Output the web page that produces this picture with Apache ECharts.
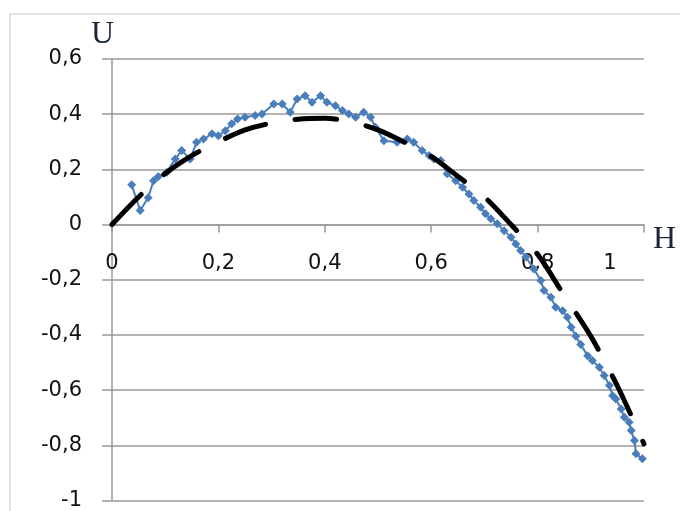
<!DOCTYPE html>
<html>
<head>
<meta charset="utf-8">
<script src="https://cdn.jsdelivr.net/npm/echarts@6/dist/echarts.min.js"></script>
<style>html,body{margin:0;padding:0;background:#fff}#c{width:680px;height:511px}</style>
</head>
<body>
<div id="c"></div>
<script>
// Experimental data (blue, diamond markers)
const expH = [0.037,0.053,0.068,0.078,0.087,0.103,0.119,0.131,0.147,0.159,0.172,0.188,0.2,0.213,0.225,0.236,0.25,0.269,0.282,0.304,0.32,0.335,0.348,0.363,0.376,0.392,0.404,0.42,0.433,0.445,0.458,0.473,0.486,0.495,0.511,0.536,0.555,0.567,0.583,0.596,0.605,0.618,0.63,0.646,0.659,0.671,0.68,0.693,0.702,0.712,0.724,0.737,0.75,0.759,0.768,0.778,0.793,0.806,0.812,0.825,0.834,0.847,0.856,0.863,0.872,0.881,0.894,0.903,0.916,0.925,0.935,0.941,0.947,0.957,0.963,0.972,0.976,0.982,0.985,0.997];
const expU = [0.144,0.051,0.097,0.159,0.174,0.19,0.238,0.268,0.238,0.298,0.31,0.329,0.322,0.34,0.365,0.383,0.389,0.395,0.401,0.437,0.437,0.407,0.455,0.467,0.443,0.467,0.443,0.431,0.413,0.401,0.389,0.407,0.389,0.353,0.304,0.298,0.31,0.298,0.268,0.25,0.238,0.232,0.184,0.159,0.135,0.111,0.087,0.063,0.039,0.021,0.003,-0.022,-0.046,-0.07,-0.094,-0.118,-0.161,-0.203,-0.239,-0.263,-0.3,-0.312,-0.336,-0.372,-0.405,-0.435,-0.475,-0.493,-0.517,-0.547,-0.583,-0.62,-0.632,-0.668,-0.698,-0.716,-0.746,-0.783,-0.831,-0.849];
// Theoretical curve (black dashed)
const thH = [0,0.05,0.1,0.15,0.2,0.25,0.3,0.35,0.4,0.45,0.5,0.55,0.6,0.65,0.7,0.75,0.8,0.85,0.9,0.95,1.0];
const thU = [0,0.1,0.185,0.25,0.3,0.343,0.368,0.382,0.385,0.372,0.343,0.298,0.247,0.175,0.10,0.0,-0.108,-0.257,-0.405,-0.585,-0.795];
// Axis settings
const xTicks = {min:0, max:1, step:0.2};
const yTicks = {min:-1, max:0.6, step:0.2};
const xName = 'H';
const yName = 'U';

const FONT = 'DejaVu Sans';
const fmt = v => String(Math.round(v*10)/10).replace('.', ',');
const zip = (a,b) => a.map((v,i)=>[v,b[i]]);

const GRID_TOP = 59, GRID_BOTTOM = 10.5, H_PX = 511;
const plotH = H_PX - GRID_TOP - GRID_BOTTOM;
// shift the x axis from the bottom of the plot up to U = 0
const zeroShift = -plotH * (0 - yTicks.min) / (yTicks.max - yTicks.min);

const chart = echarts.init(document.getElementById('c'), null, {renderer:'canvas'});
chart.setOption({
  animation:false,
  backgroundColor:'#fff',
  grid:{left:112, right:36, top:GRID_TOP, bottom:GRID_BOTTOM, containLabel:false},
  xAxis:{
    type:'value', min:xTicks.min, max:xTicks.max, interval:xTicks.step,
    position:'bottom', offset:zeroShift,
    axisLine:{show:true, onZero:false, lineStyle:{color:'#9a9a9a', width:1.5}},
    axisTick:{show:true, inside:false, length:8, lineStyle:{color:'#9a9a9a', width:1.5}},
    splitLine:{show:false},
    axisLabel:{
      showMinLabel:true, showMaxLabel:true,
      margin:28, color:'#111', fontFamily:FONT, fontSize:21,
      formatter: v => (Math.abs(v-1)<1e-9 ? '{l|1}' : fmt(v)),
      rich:{l:{padding:[0,68,0,0], color:'#111', fontFamily:FONT, fontSize:21}}
    }
  },
  yAxis:{
    type:'value', min:yTicks.min, max:yTicks.max, interval:yTicks.step,
    axisLine:{show:true, onZero:false, lineStyle:{color:'#9a9a9a', width:1.5}},
    axisTick:{show:true, inside:false, length:10, lineStyle:{color:'#9a9a9a', width:1.5}},
    splitLine:{show:true, lineStyle:{color:'#9a9a9a', width:1.5}},
    axisLabel:{margin:30, color:'#111', fontFamily:FONT, fontSize:21, formatter: fmt}
  },
  graphic:[
    {type:'rect', shape:{x:10, y:14, width:700, height:600}, style:{fill:null, stroke:'#d9d9d9', lineWidth:1.5}, z:-10},
    {type:'text', left:91, top:19, style:{text:yName, font:'32px "Liberation Serif"', fill:'#1c2536'}},
    {type:'text', left:653, top:224, style:{text:xName, font:'32px "Liberation Serif"', fill:'#1c2536'}}
  ],
  series:[
    {
      type:'line', data:zip(expH, expU),
      symbol:'diamond', symbolSize:9,
      itemStyle:{color:'#4a7ebb'},
      lineStyle:{color:'#4a7ebb', width:2},
      z:2
    },
    {
      type:'line', data:zip(thH, thU), smooth:0.3, showSymbol:false, symbol:'none',
      lineStyle:{color:'#000', width:5, type:[42,30], cap:'round'},
      z:3
    }
  ]
});
</script>
</body>
</html>
